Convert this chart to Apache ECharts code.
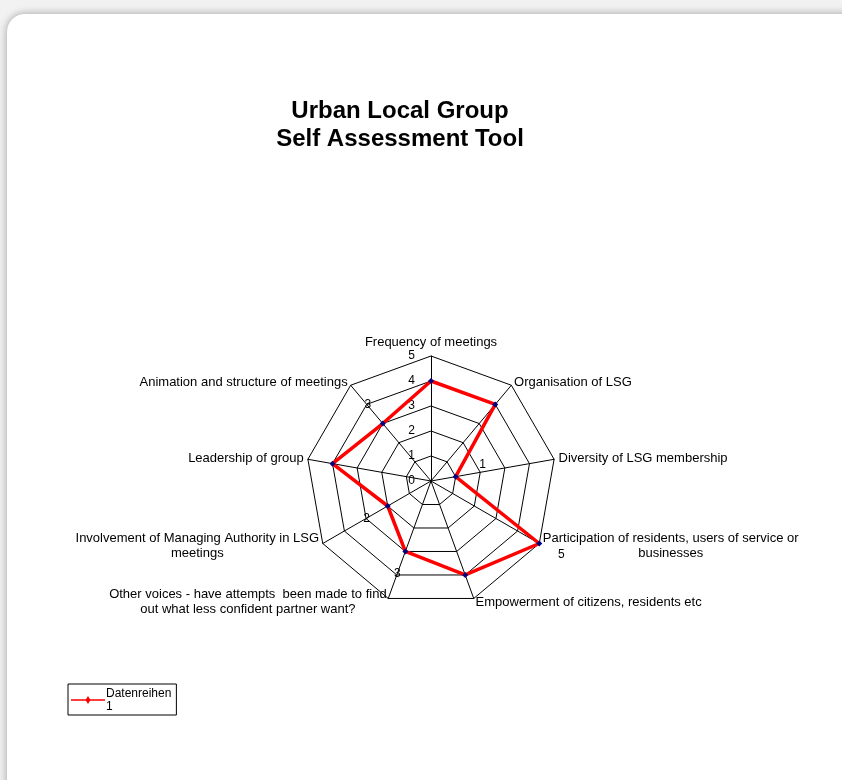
<!DOCTYPE html>
<html>
<head>
<meta charset="utf-8">
<script src="https://cdn.jsdelivr.net/npm/echarts@6/dist/echarts.min.js"></script>
<style>
  html, body { margin: 0; padding: 0; background: #f2f2f2; }
  body { width: 842px; height: 780px; overflow: hidden; position: relative; }
  .card {
    position: absolute; left: 7px; top: 14px; width: 900px; height: 900px;
    background: #fff; border-radius: 18px;
    box-shadow: 0 0 9px rgba(0, 0, 0, 0.35);
  }
  #main { position: absolute; left: 0; top: 0; width: 842px; height: 780px; }
</style>
</head>
<body>
<div class="card"></div>
<div id="main"></div>
<script>
// criteria in clockwise order starting at the top
var categories = [
  "Frequency of meetings",
  "Organisation of LSG",
  "Diversity of LSG membership",
  "Participation of residents, users of service or\nbusinesses",
  "Empowerment of citizens, residents etc",
  "Other voices - have attempts  been made to find\nout what less confident partner want?",
  "Involvement of Managing Authority in LSG\nmeetings",
  "Leadership of group",
  "Animation and structure of meetings"
];
var scores = [4, 4, 1, 5, 4, 3, 2, 4, 3];
// which points carry a value label in the original
var labelled = [false, false, true, true, false, true, true, false, true];
var maxScore = 5;
var seriesName = "Datenreihen 1";

// label nudges (px) so the value labels sit where the original put them
var labelNudge = [[0, 0], [0, 0], [27, -12], [22, 11], [0, 0], [-8, 22], [-21, 13], [0, 0], [-15, -19]];

var FONT = "Liberation Sans, Arial, sans-serif";
var NAME_SIZE = 13;

// echarts lays radar axes out counter-clockwise, so flip the order
var order = [0];
for (var i = categories.length - 1; i > 0; i--) order.push(i);

// measure multi-line names so the lines can be centred under each other
var ctx = document.createElement("canvas").getContext("2d");
ctx.font = NAME_SIZE + "px " + FONT;
var nameRich = {};
categories.forEach(function (c, k) {
  var w = 0;
  c.split("\n").forEach(function (line) { w = Math.max(w, Math.ceil(ctx.measureText(line).width)); });
  nameRich["n" + k] = { width: w, align: "center", fontSize: NAME_SIZE, color: "#000", lineHeight: 15, fontFamily: FONT };
});

var valueRich = {};
labelNudge.forEach(function (d, k) {
  var dx = d[0], dy = d[1];
  valueRich["v" + k] = {
    fontSize: 12, color: "#000", fontFamily: FONT,
    padding: [dy > 0 ? 2 * dy : 0, dx < 0 ? -2 * dx : 0, dy < 0 ? -2 * dy : 0, dx > 0 ? 2 * dx : 0]
  };
});

var indicators = order.map(function (k, j) {
  var ind = { name: categories[k], max: maxScore, min: 0 };
  if (j === 0) {
    ind.axisLabel = { show: true };
  }
  return ind;
});
var values = order.map(function (k) { return scores[k]; });

var myChart = echarts.init(document.getElementById("main"));
myChart.setOption({
  backgroundColor: "transparent",
  textStyle: { fontFamily: FONT },
  title: {
    text: "Urban Local Group\nSelf Assessment Tool",
    left: 395,
    top: 92,
    textAlign: "center",
    textStyle: {
      fontFamily: FONT,
      fontWeight: "bold",
      fontSize: 24,
      lineHeight: 28,
      color: "#000"
    }
  },
  legend: {
    orient: "vertical",
    left: 68,
    top: 684,
    padding: [3, 5, 2, 3],
    borderColor: "#000",
    borderWidth: 1,
    borderRadius: 0,
    itemWidth: 34,
    itemHeight: 8,
    itemGap: 0,
    formatter: function (name) { return name.replace(" ", "\n"); },
    textStyle: { fontSize: 12, color: "#000", padding: [0, 0, 0, -4], lineHeight: 13 },
    data: [{
      name: seriesName,
      icon: "path://M0,3.2h15l2,-3.2l2,3.2h15v1.6h-15l-2,3.2l-2,-3.2h-15z",
      itemStyle: { color: "#ff0000" }
    }]
  },
  radar: {
    center: [431, 481],
    radius: 125,
    startAngle: 90,
    splitNumber: 5,
    shape: "polygon",
    indicator: indicators,
    nameGap: 4,
    axisName: {
      color: "#000",
      fontSize: NAME_SIZE,
      fontFamily: FONT,
      lineHeight: 15,
      formatter: function (name) {
        var k = categories.indexOf(name);
        return name.split("\n").map(function (l) { return "{n" + k + "|" + l + "}"; }).join("\n");
      },
      rich: nameRich
    },
    axisLine: { lineStyle: { color: "#000", width: 1 } },
    splitLine: { lineStyle: { color: "#000", width: 1 } },
    splitArea: { show: false },
    axisTick: { show: false },
    axisLabel: {
      show: false,
      color: "#000",
      fontSize: 12,
      margin: 16
    }
  },
  series: [{
    name: seriesName,
    type: "radar",
    symbol: "diamond",
    symbolSize: 6,
    itemStyle: { color: "#000080" },
    lineStyle: { color: "#ff0000", width: 3.5 },
    label: {
      show: true,
      position: "inside",
      color: "#000",
      fontSize: 12,
      formatter: function (p) {
        var d = p.dimensionIndex;
        if (d == null) return "";
        var k = order[d];
        if (!labelled[k]) return "";
        return "{v" + k + "|" + scores[k] + "}";
      },
      rich: valueRich
    },
    data: [{ name: seriesName, value: values }]
  }]
});
window.addEventListener("resize", function () {
  myChart.resize();
});
</script>
</body>
</html>
